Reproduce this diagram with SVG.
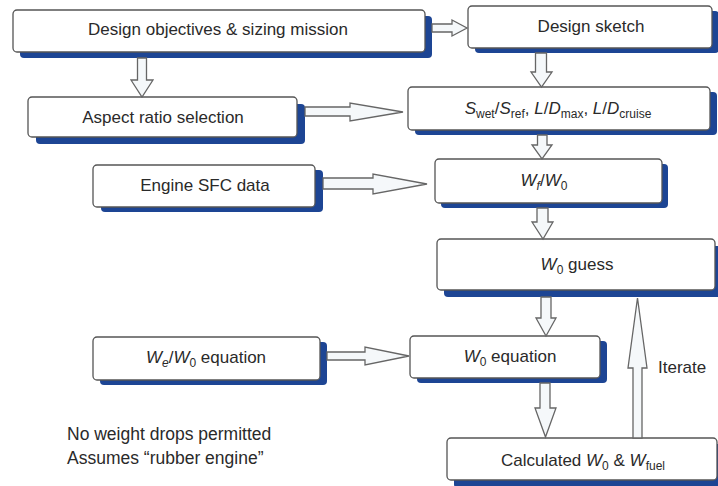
<svg xmlns="http://www.w3.org/2000/svg" width="718" height="486" viewBox="0 0 718 486">
<defs>
<style>
.sh{fill:#1d4594;}
.bx{fill:#ffffff;stroke:#555555;stroke-width:1.3;}
.ar{fill:#f5f8fa;stroke:#666666;stroke-width:1.3;stroke-linejoin:miter;}
text{font-family:"Liberation Sans",Arial,sans-serif;font-size:17px;fill:#2a2a2a;}
.c{text-anchor:middle;}
.i{font-style:italic;}
.s{font-size:12px;}
</style>
</defs>
<rect width="718" height="486" fill="#ffffff"/>
<g id="n-objectives">
<rect class="sh" x="20" y="16" width="412" height="42" rx="4"/>
<rect class="bx" x="13" y="10" width="412" height="42" rx="4"/>
<text class="c" x="218" y="35">Design objectives &amp; sizing mission</text>
</g>
<g id="n-sketch">
<rect class="sh" x="475" y="11" width="244" height="42" rx="4"/>
<rect class="bx" x="468" y="6" width="244" height="42" rx="4"/>
<text class="c" x="591" y="32">Design sketch</text>
</g>
<g id="n-aspect">
<rect class="sh" x="36" y="104" width="269" height="40" rx="4"/>
<rect class="bx" x="28" y="97" width="269" height="40" rx="4"/>
<text class="c" x="163" y="123">Aspect ratio selection</text>
</g>
<g id="n-aero">
<rect class="sh" x="415" y="92" width="302" height="43" rx="4"/>
<rect class="bx" x="408" y="87" width="302" height="43" rx="4"/>
<text class="c" x="558" y="114"><tspan class="i">S</tspan><tspan class="s" dy="4">wet</tspan><tspan dy="-4">/</tspan><tspan class="i">S</tspan><tspan class="s" dy="4">ref</tspan><tspan dy="-4">, </tspan><tspan class="i">L</tspan>/<tspan class="i">D</tspan><tspan class="s" dy="4">max</tspan><tspan dy="-4">, </tspan><tspan class="i">L</tspan>/<tspan class="i">D</tspan><tspan class="s" dy="4">cruise</tspan></text>
</g>
<g id="n-sfc">
<rect class="sh" x="101" y="170" width="222" height="42" rx="4"/>
<rect class="bx" x="93" y="165" width="222" height="42" rx="4"/>
<text class="c" x="205" y="191">Engine SFC data</text>
</g>
<g id="n-wfw0">
<rect class="sh" x="441" y="164" width="227" height="44" rx="4"/>
<rect class="bx" x="435" y="159" width="227" height="44" rx="4"/>
<text class="c" x="544" y="186"><tspan class="i">W</tspan><tspan class="s i" dy="4">f</tspan><tspan dy="-4">/</tspan><tspan class="i">W</tspan><tspan class="s" dy="4">0</tspan></text>
</g>
<g id="n-guess">
<rect class="sh" x="444" y="246" width="280" height="51" rx="4"/>
<rect class="bx" x="437" y="239" width="278" height="51" rx="4"/>
<text class="c" x="577" y="270"><tspan class="i">W</tspan><tspan class="s" dy="4">0</tspan><tspan dy="-4"> guess</tspan></text>
</g>
<g id="n-wew0">
<rect class="sh" x="100" y="342" width="227" height="43" rx="4"/>
<rect class="bx" x="93" y="337" width="227" height="43" rx="4"/>
<text class="c" x="206" y="363"><tspan class="i">W</tspan><tspan class="s i" dy="4">e</tspan><tspan dy="-4">/</tspan><tspan class="i">W</tspan><tspan class="s" dy="4">0</tspan><tspan dy="-4"> equation</tspan></text>
</g>
<g id="n-w0eq">
<rect class="sh" x="417" y="341" width="190" height="42" rx="4"/>
<rect class="bx" x="410" y="336" width="190" height="42" rx="4"/>
<text class="c" x="510" y="362"><tspan class="i">W</tspan><tspan class="s" dy="4">0</tspan><tspan dy="-4"> equation</tspan></text>
</g>
<g id="n-calc">
<rect class="sh" x="454" y="444" width="270" height="44" rx="4"/>
<rect class="bx" x="447" y="438" width="270" height="42" rx="4"/>
<text class="c" x="583" y="466">Calculated <tspan class="i">W</tspan><tspan class="s" dy="4">0</tspan><tspan dy="-4"> &amp; </tspan><tspan class="i">W</tspan><tspan class="s" dy="4">fuel</tspan></text>
</g>
<g id="connectors">
<polygon class="ar" points="432,24 452,24 452,20 467,28 452,36 452,32 432,32"/>
<polygon class="ar" points="137.5,58 146.5,58 146.5,80 153,80 142,97 131,80 137.5,80"/>
<polygon class="ar" points="305,107 350,107 350,103 403,112 350,121 350,116 305,116"/>
<polygon class="ar" points="535.5,53 546.5,53 546.5,72 552,72 541.5,87 531,72 535.5,72"/>
<polygon class="ar" points="537.5,135 547,135 547,145 552,145 542,159 532,145 537.5,145"/>
<polygon class="ar" points="323,178 373,178 373,174 427,184 373,194 373,189 323,189"/>
<polygon class="ar" points="537,208 548,208 548,222 553,222 543,239 532,222 537,222"/>
<polygon class="ar" points="541,297 551,297 551,318 556,318 546,336 536,318 541,318"/>
<polygon class="ar" points="327,352 365,352 365,347 409,356 365,365 365,360 327,360"/>
<polygon class="ar" points="540,383 550,383 550,408 556,408 545.5,437 535,408 540,408"/>
<polygon class="ar" points="633,438 642,438 642,368 647,368 637.5,298 628,368 633,368"/>
<text x="658" y="373">Iterate</text>
</g>
<g id="notes">
<text x="67" y="440" style="font-size:17.5px">No weight drops permitted</text>
<text x="67" y="464" style="font-size:17.5px">Assumes “rubber engine”</text>
</g>
</svg>
